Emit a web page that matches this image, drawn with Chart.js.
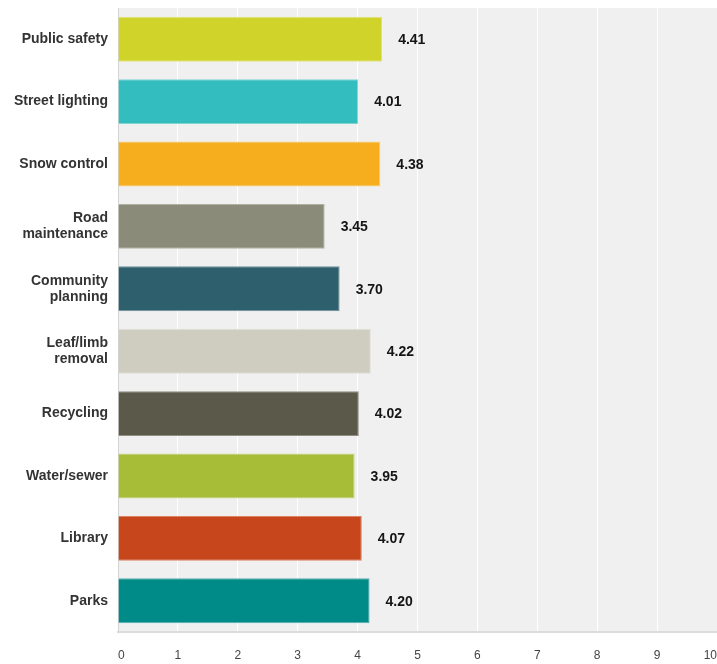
<!DOCTYPE html>
<html>
<head>
<meta charset="utf-8">
<script src="https://cdn.jsdelivr.net/npm/chart.js@4/dist/chart.umd.min.js"></script>
<style>
  html, body { margin: 0; padding: 0; background: #fff; }
  #wrap { width: 717px; height: 664px; position: relative; }
</style>
</head>
<body>
<div id="wrap"><canvas id="ratingChart"></canvas></div>
<script>
const categories = [
  'Public safety',
  'Street lighting',
  'Snow control',
  ['Road', 'maintenance'],
  ['Community', 'planning'],
  ['Leaf/limb', 'removal'],
  'Recycling',
  'Water/sewer',
  'Library',
  'Parks'
];
const ratings = [4.41, 4.01, 4.38, 3.45, 3.70, 4.22, 4.02, 3.95, 4.07, 4.20];
const barColors = ['#cfd32a', '#33bdbe', '#f6ae1e', '#8a8b78', '#2e5f6c', '#cfcdbf', '#5b5a4a', '#a8bd37', '#c8461c', '#008a88'];
const barEdges = ['#dfe27a', '#7fd4d4', '#f9c96a', '#b0b1a3', '#6f9099', '#e0ded4', '#8f8e83', '#c6d37f', '#dd8365', '#55b1af'];

// grey plot background
const plotBg = {
  id: 'plotBg',
  beforeDraw(chart) {
    const { ctx, chartArea } = chart;
    ctx.save();
    ctx.fillStyle = '#f0f0f0';
    ctx.fillRect(chartArea.left, chartArea.top, chartArea.right - chartArea.left, chartArea.bottom - chartArea.top);
    ctx.restore();
  }
};

// value text to the right of each bar
const valueLabels = {
  id: 'valueLabels',
  afterDatasetsDraw(chart) {
    const { ctx } = chart;
    const meta = chart.getDatasetMeta(0);
    ctx.save();
    ctx.font = 'bold 14px "Liberation Sans", Arial, sans-serif';
    ctx.fillStyle = '#151515';
    ctx.textAlign = 'left';
    ctx.textBaseline = 'middle';
    meta.data.forEach((bar, i) => {
      ctx.fillText(ratings[i].toFixed(2), bar.x + 16, bar.y + 1);
    });
    ctx.restore();
  }
};

new Chart(document.getElementById('ratingChart').getContext('2d'), {
  type: 'bar',
  data: {
    labels: categories,
    datasets: [{
      data: ratings,
      backgroundColor: barColors,
      borderColor: barEdges,
      borderWidth: 1,
      borderSkipped: 'start',
      barPercentage: 0.72,
      categoryPercentage: 1
    }]
  },
  options: {
    indexAxis: 'y',
    responsive: true,
    maintainAspectRatio: false,
    animation: false,
    layout: { padding: { top: 8, right: 0, left: 0, bottom: 0 } },
    scales: {
      x: {
        min: 0,
        max: 10,
        afterFit(scale) {
          scale.height = 32;
          scale.paddingLeft = 0;
          scale.paddingRight = 0;
        },
        grid: {
          color: (c) => (c.tick && c.tick.value > 0 && c.tick.value < 10) ? '#ffffff' : 'rgba(0,0,0,0)',
          lineWidth: 1,
          drawTicks: false
        },
        border: { display: true, color: '#dcdcdc', width: 2 },
        ticks: {
          stepSize: 1,
          align: 'inner',
          padding: 16,
          color: '#444',
          font: { family: '"Liberation Sans", Arial, sans-serif', size: 12 }
        }
      },
      y: {
        afterFit(scale) {
          scale.width = 118;
          scale.paddingTop = 0;
          scale.paddingBottom = 0;
        },
        grid: { display: false, drawTicks: false },
        border: { display: true, color: '#d4d4d4', width: 1 },
        ticks: {
          padding: 10,
          color: '#333',
          font: { family: '"Liberation Sans", Arial, sans-serif', size: 14, weight: 'bold', lineHeight: 1.15 }
        }
      }
    },
    plugins: {
      legend: { display: false },
      tooltip: { enabled: false }
    }
  },
  plugins: [plotBg, valueLabels]
});
</script>
</body>
</html>
